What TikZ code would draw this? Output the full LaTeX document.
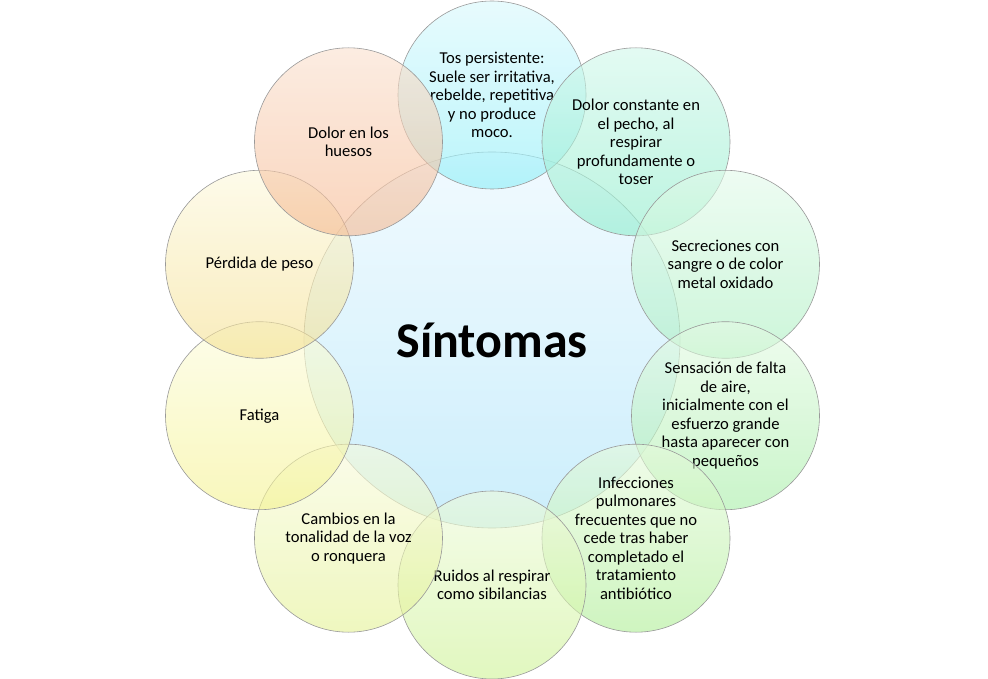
\documentclass[tikz,border=0pt]{standalone}
\usepackage{fontspec}
\setmainfont{Carlito}
\begin{document}
\begin{tikzpicture}[x=1pt,y=-1pt,
  bub/.style={circle, inner sep=0pt, minimum size=188pt, draw=black!40, line width=0.6pt,
    fill opacity=0.6, text opacity=1, align=center,
    font=\fontsize{16.6}{18.5}\selectfont},
  core/.style={circle, inner sep=0pt, minimum size=376pt, draw=black!35, line width=0.6pt,
    fill opacity=0.8, text opacity=1, top color=cTop, bottom color=cBot,
    font=\bfseries\fontsize{50}{58}\selectfont}]
\definecolor{cTop}{HTML}{EEF9FF}
\definecolor{cBot}{HTML}{BFEAFA}
\definecolor{tosT}{HTML}{D8F8FC}\definecolor{tosB}{HTML}{8CEEF8}
\definecolor{dcT}{HTML}{D0F7EA}\definecolor{dcB}{HTML}{8EEDCB}
\definecolor{seT}{HTML}{E2FAEA}\definecolor{seB}{HTML}{AAEFC0}
\definecolor{snT}{HTML}{E4FAE4}\definecolor{snB}{HTML}{A6EEA6}
\definecolor{inT}{HTML}{E6FADC}\definecolor{inB}{HTML}{AEEE95}
\definecolor{ruT}{HTML}{EEFADC}\definecolor{ruB}{HTML}{CDF394}
\definecolor{caT}{HTML}{F8FADC}\definecolor{caB}{HTML}{E4F294}
\definecolor{faT}{HTML}{FCFCDC}\definecolor{faB}{HTML}{F4F28F}
\definecolor{peT}{HTML}{FCF8DC}\definecolor{peB}{HTML}{F4DF8F}
\definecolor{huT}{HTML}{FAE0CE}\definecolor{huB}{HTML}{F5B890}
\useasboundingbox (0,0) rectangle (988,679);
\node[core] (c) at (492,340) {Síntomas};
\node[bub, top color=tosT, bottom color=tosB] (tos) at (492,95)
  {Tos persistente:\\Suele ser irritativa,\\rebelde, repetitiva\\y no produce\\moco.};
\node[bub, top color=dcT, bottom color=dcB] (dc) at (636,141.8)
  {Dolor constante en\\el pecho, al\\respirar\\profundamente o\\toser};
\node[bub, top color=seT, bottom color=seB] (se) at (725.5,264.3)
  {Secreciones con\\sangre o de color\\metal oxidado};
\node[bub, top color=snT, bottom color=snB] (sn) at (725.5,415.7)
  {Sensación de falta\\de aire,\\inicialmente con el\\esfuerzo grande\\hasta aparecer con\\pequeños};
\node[bub, top color=inT, bottom color=inB] (inf) at (636,538.2)
  {Infecciones\\pulmonares\\frecuentes que no\\cede tras haber\\completado el\\tratamiento\\antibiótico};
\node[bub, top color=ruT, bottom color=ruB] (ru) at (492,585)
  {Ruidos al respirar\\como sibilancias};
\node[bub, top color=caT, bottom color=caB] (ca) at (348.5,538.2)
  {Cambios en la\\tonalidad de la voz\\o ronquera};
\node[bub, top color=faT, bottom color=faB] (fa) at (259.5,415.7) {Fatiga};
\node[bub, top color=peT, bottom color=peB] (pe) at (259.5,264.3) {Pérdida de peso};
\node[bub, top color=huT, bottom color=huB] (hu) at (348.5,141.8) {Dolor en los\\huesos};
\end{tikzpicture}
\end{document}
